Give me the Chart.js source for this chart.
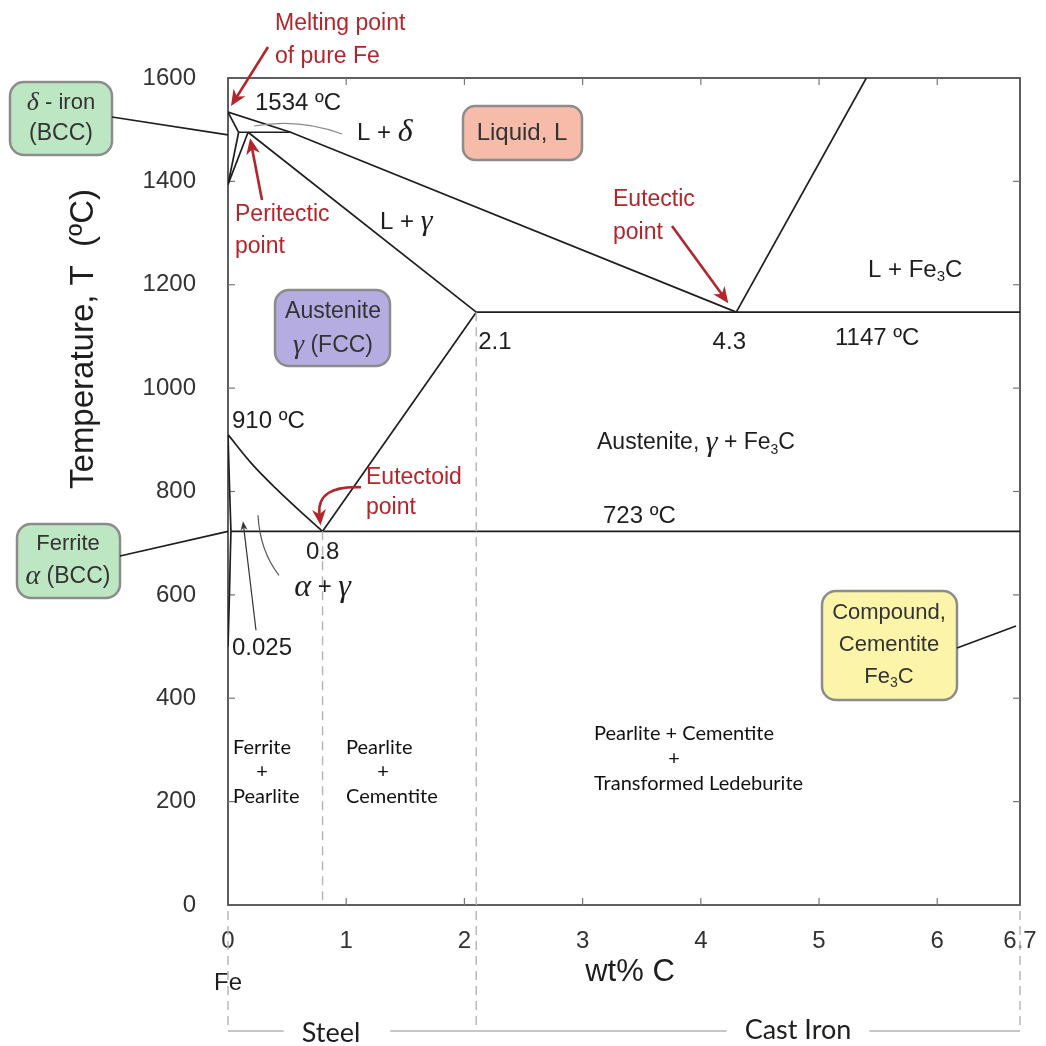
<!DOCTYPE html>
<html>
<head>
<meta charset="utf-8">
<title>Iron–carbon phase diagram</title>
<script src="https://cdn.jsdelivr.net/npm/chart.js@4.4.1/dist/chart.umd.min.js"></script>
<style>
  html, body { margin: 0; padding: 0; background: #ffffff; }
  #wrap { width: 1046px; height: 1046px; }
</style>
</head>
<body>
<div id="wrap"><canvas id="diagram" width="1046" height="1046"></canvas></div>
<script>
// ---- Fe–Fe3C phase diagram data: [wt% C, temperature in ºC] ----
const xTickValues = [0, 1, 2, 3, 4, 5, 6, 6.7];
const yTickValues = [0, 200, 400, 600, 800, 1000, 1200, 1400, 1600];

const liquidusDelta      = [[0, 1534], [0.53, 1495], [4.3, 1147]];
const liquidusCementite  = [[4.3, 1147], [5.4, 1600]];
const solidusDelta       = [[0, 1534], [0.09, 1495]];
const peritecticLine     = [[0.09, 1495], [0.53, 1495]];
const deltaGammaUpper    = [[0.09, 1495], [0, 1394]];
const deltaGammaLower    = [[0.17, 1495], [0, 1394]];
const solidusGamma       = [[0.17, 1495], [2.1, 1147]];
const eutecticLine       = [[2.1, 1147], [6.7, 1147]];
const acmLine            = [[0.8, 723], [2.1, 1147]];
const a3Line             = [[0, 910], [0.2, 854], [0.4, 807], [0.6, 764], [0.8, 723]];
const alphaGammaLine     = [[0, 910], [0.012, 815], [0.025, 723]];
const eutectoidLine      = [[0.025, 723], [6.7, 723]];
const ferriteSolvus      = [[0.025, 723], [0.02, 680], [0.012, 600], [0.005, 540], [0, 500]];
const eutectoidDivider   = [[0.8, 723], [0.8, 0]];
const steelIronDivider   = [[2.1, 1147], [2.1, 0]];

// ---- styling ----
const SANS = '"Liberation Sans", Arial, Helvetica, sans-serif';
const SERIF = '"Liberation Serif", "Times New Roman", serif';
const SOFT = 'Lato, "Open Sans", sans-serif';
const INK = '#1e1e1e';
const RED = '#b3242b';
const DASH_GREY = '#b4b4b4';
const sans = (s) => `${s}px ${SANS}`;
const greek = (s) => `italic ${s}px ${SERIF}`;

const toPoints = (arr) => arr.map(([x, y]) => ({ x, y }));
const phaseLine = (arr, extra = {}) => Object.assign({
  data: toPoints(arr), showLine: true, pointRadius: 0, borderColor: INK,
  borderWidth: 1.7, fill: false, tension: 0
}, extra);
const divider = (arr) => phaseLine(arr, { borderColor: DASH_GREY, borderWidth: 1.4, borderDash: [9, 6] });

// ---- helpers for the decoration plugin ----
function richText(ctx, x, y, parts, align) {
  let w = 0;
  parts.forEach(p => { ctx.font = p[1]; w += ctx.measureText(p[0]).width; });
  let cx = align === 'center' ? x - w / 2 : (align === 'right' ? x - w : x);
  ctx.textAlign = 'left';
  ctx.textBaseline = 'middle';
  parts.forEach(p => {
    ctx.font = p[1];
    ctx.fillText(p[0], cx, y + (p[2] || 0));
    cx += ctx.measureText(p[0]).width;
  });
  return w;
}
function fe3c(size) {
  return [['Fe', sans(size)], ['3', sans(Math.round(size * 0.62)), size * 0.3], ['C', sans(size)]];
}
function roundBox(ctx, x, y, w, h, r, fill) {
  ctx.save();
  ctx.beginPath();
  ctx.roundRect(x, y, w, h, r);
  ctx.fillStyle = fill;
  ctx.fill();
  ctx.lineWidth = 2.5;
  ctx.strokeStyle = '#8c8c8c';
  ctx.stroke();
  ctx.restore();
}
function line(ctx, x1, y1, x2, y2, color, width, dash) {
  ctx.save();
  ctx.beginPath();
  ctx.setLineDash(dash || []);
  ctx.moveTo(x1, y1);
  ctx.lineTo(x2, y2);
  ctx.strokeStyle = color;
  ctx.lineWidth = width;
  ctx.stroke();
  ctx.restore();
}
function arrowHead(ctx, x, y, angle, len, half, color) {
  ctx.save();
  ctx.translate(x, y);
  ctx.rotate(angle);
  ctx.beginPath();
  ctx.moveTo(0, 0);
  ctx.lineTo(-len, -half);
  ctx.lineTo(-len * 0.7, 0);
  ctx.lineTo(-len, half);
  ctx.closePath();
  ctx.fillStyle = color;
  ctx.fill();
  ctx.restore();
}
function straightArrow(ctx, x1, y1, x2, y2, color, width, len, half) {
  const a = Math.atan2(y2 - y1, x2 - x1);
  line(ctx, x1, y1, x2 - Math.cos(a) * len * 0.7, y2 - Math.sin(a) * len * 0.7, color, width);
  arrowHead(ctx, x2, y2, a, len, half, color);
}
function curvedArrow(ctx, x1, y1, cx, cy, x2, y2, color, width, len, half) {
  const a = Math.atan2(y2 - cy, x2 - cx);
  ctx.save();
  ctx.beginPath();
  ctx.moveTo(x1, y1);
  ctx.quadraticCurveTo(cx, cy, x2 - Math.cos(a) * len * 0.7, y2 - Math.sin(a) * len * 0.7);
  ctx.strokeStyle = color;
  ctx.lineWidth = width;
  ctx.stroke();
  ctx.restore();
  arrowHead(ctx, x2, y2, a, len, half, color);
}
function curve(ctx, x1, y1, cx, cy, x2, y2, color, width) {
  ctx.save();
  ctx.beginPath();
  ctx.moveTo(x1, y1);
  ctx.quadraticCurveTo(cx, cy, x2, y2);
  ctx.strokeStyle = color;
  ctx.lineWidth = width;
  ctx.stroke();
  ctx.restore();
}

// Frame and inward tick marks drawn under the phase boundaries
const framePlugin = {
  id: 'frame',
  beforeDatasetsDraw(chart) {
    const ctx = chart.ctx;
    const { left, right, top, bottom } = chart.chartArea;
    const X = v => chart.scales.x.getPixelForValue(v);
    const Y = v => chart.scales.y.getPixelForValue(v);
    ctx.save();
    ctx.strokeStyle = '#4e4e4e';
    ctx.lineWidth = 1.8;
    ctx.strokeRect(left, top, right - left, bottom - top);
    xTickValues.slice(1, -1).forEach(v => {
      line(ctx, X(v), bottom, X(v), bottom - 7, '#777', 1.2);
      line(ctx, X(v), top, X(v), top + 7, '#777', 1.2);
    });
    yTickValues.slice(1, -1).forEach(v => {
      line(ctx, left, Y(v), left + 7, Y(v), '#777', 1.2);
      line(ctx, right, Y(v), right - 7, Y(v), '#777', 1.2);
    });
    ctx.restore();
  }
};

// Phase labels, call-out boxes, arrows and the steel / cast iron bracket
const labelPlugin = {
  id: 'labels',
  afterDraw(chart) {
    const ctx = chart.ctx;
    const { left, right, top, bottom } = chart.chartArea;
    const X = v => chart.scales.x.getPixelForValue(v);
    const Y = v => chart.scales.y.getPixelForValue(v);
    const yEutectic = Y(1147), yEutectoid = Y(723);
    ctx.save();

    // axis titles
    ctx.fillStyle = INK;
    ctx.save();
    ctx.translate(84, 339);
    ctx.rotate(-Math.PI / 2);
    ctx.font = sans(33);
    ctx.textAlign = 'center';
    ctx.textBaseline = 'middle';
    ctx.fillText('Temperature, T  (ºC)', 0, 0);
    ctx.restore();
    ctx.font = sans(31);
    ctx.textAlign = 'center';
    ctx.textBaseline = 'middle';
    ctx.fillText('wt% C', 630, 972);
    ctx.font = sans(24);
    ctx.fillText('Fe', 228, 983);

    // steel / cast iron bracket
    const yBr = 1031;
    [0, 2.1, 6.7].forEach(v => line(ctx, X(v), bottom + 6, X(v), yBr, DASH_GREY, 1.4, [9, 6]));
    ctx.font = `27px ${SOFT}`;
    const steelW = ctx.measureText('Steel').width;
    const castW = ctx.measureText('Cast Iron').width;
    const steelX = 331, castX = 798;
    line(ctx, X(0), yBr, steelX - steelW / 2 - 18, yBr, DASH_GREY, 1.4);
    line(ctx, steelX + steelW / 2 + 30, yBr, castX - castW / 2 - 18, yBr, DASH_GREY, 1.4);
    line(ctx, castX + castW / 2 + 18, yBr, X(6.7), yBr, DASH_GREY, 1.4);
    ctx.fillStyle = INK;
    ctx.textAlign = 'center';
    ctx.textBaseline = 'middle';
    ctx.fillText('Steel', steelX, yBr + 2);
    ctx.fillText('Cast Iron', castX, yBr - 1);

    // call-out boxes
    roundBox(ctx, 10, 82, 102, 73, 14, '#bde6c3');
    line(ctx, 112, 117, left, Y(1490), INK, 1.7);
    ctx.fillStyle = '#333';
    richText(ctx, 61, 103, [['δ', greek(26)], [' - iron', sans(22)]], 'center');
    richText(ctx, 61, 134, [['(BCC)', sans(23)]], 'center');

    roundBox(ctx, 17, 524, 103, 74, 14, '#bde6c3');
    line(ctx, 120, 556, left, yEutectoid, INK, 1.7);
    ctx.fillStyle = '#333';
    richText(ctx, 68, 544, [['Ferrite', sans(22)]], 'center');
    richText(ctx, 68, 577, [['α', greek(28)], [' (BCC)', sans(23)]], 'center');

    roundBox(ctx, 275, 290, 115, 76, 14, '#b5ace2');
    ctx.fillStyle = '#333';
    richText(ctx, 333, 312, [['Austenite', sans(23)]], 'center');
    richText(ctx, 333, 346, [['γ', greek(28)], [' (FCC)', sans(23)]], 'center');

    roundBox(ctx, 463, 106, 119, 54, 12, '#f6bba9');
    ctx.fillStyle = '#333';
    richText(ctx, 522, 133, [['Liquid, L', sans(24)]], 'center');

    roundBox(ctx, 822, 591, 135, 109, 14, '#fbf4a9');
    line(ctx, 957, 648, right - 4, 626, INK, 1.7);
    ctx.fillStyle = '#333';
    richText(ctx, 889, 613, [['Compound,', sans(22)]], 'center');
    richText(ctx, 889, 645, [['Cementite', sans(22)]], 'center');
    richText(ctx, 889, 677, fe3c(22), 'center');

    // phase-field and temperature labels
    ctx.fillStyle = INK;
    richText(ctx, 255, 103, [['1534 ºC', sans(24)]], 'left');
    richText(ctx, 357, 133, [['L + ', sans(24)], ['δ', greek(32)]], 'left');
    curve(ctx, 254, 126, 300, 118, 342, 134, '#8a8a8a', 1.1);
    richText(ctx, 380, 222, [['L + ', sans(24)], ['γ', greek(30)]], 'left');
    richText(ctx, 868, 270, [['L + ', sans(24)]].concat(fe3c(24)), 'left');
    richText(ctx, X(2.1) + 2, yEutectic + 30, [['2.1', sans(24)]], 'left');
    richText(ctx, X(4.3) - 7, yEutectic + 30, [['4.3', sans(24)]], 'center');
    richText(ctx, 835, yEutectic + 26, [['1147 ºC', sans(24)]], 'left');
    richText(ctx, 232, Y(910) - 13, [['910 ºC', sans(24)]], 'left');
    richText(ctx, 597, 443, [['Austenite, ', sans(23)], ['γ', greek(30)], [' + ', sans(23)]].concat(fe3c(23)), 'left');
    richText(ctx, 603, yEutectoid - 15, [['723 ºC', sans(24)]], 'left');
    richText(ctx, X(0.8), yEutectoid + 21, [['0.8', sans(24)]], 'center');
    richText(ctx, X(0.8), yEutectoid + 56, [['α', greek(32)], [' + ', sans(24)], ['γ', greek(32)]], 'center');
    curve(ctx, 258, yEutectoid - 16, 260, yEutectoid + 20, 279, yEutectoid + 44, '#555', 1.2);
    richText(ctx, 232, yEutectoid + 117, [['0.025', sans(24)]], 'left');
    straightArrow(ctx, 256, yEutectoid + 99, 243, yEutectoid - 10, '#333', 1.2, 9, 3.5);

    // microstructure labels
    const sm = `20px ${SOFT}`;
    ctx.fillStyle = '#111';
    richText(ctx, 233, 748, [['Ferrite', sm]], 'left');
    richText(ctx, 262, 772, [['+', sm]], 'center');
    richText(ctx, 233, 797, [['Pearlite', sm]], 'left');
    richText(ctx, 346, 748, [['Pearlite', sm]], 'left');
    richText(ctx, 383, 772, [['+', sm]], 'center');
    richText(ctx, 346, 797, [['Cementite', sm]], 'left');
    richText(ctx, 594, 734, [['Pearlite + Cementite', sm]], 'left');
    richText(ctx, 674, 759, [['+', sm]], 'center');
    richText(ctx, 594, 784, [['Transformed Ledeburite', sm]], 'left');

    // red call-outs for the invariant points
    ctx.fillStyle = RED;
    richText(ctx, 275, 24, [['Melting point', sans(23)]], 'left');
    richText(ctx, 275, 57, [['of pure Fe', sans(23)]], 'left');
    straightArrow(ctx, 268, 47, X(0) + 3, Y(1534) - 6, RED, 2.6, 16, 7);

    ctx.fillStyle = RED;
    richText(ctx, 235, 215, [['Peritectic', sans(23)]], 'left');
    richText(ctx, 235, 247, [['point', sans(23)]], 'left');
    straightArrow(ctx, 262, 200, X(0.17) + 2, Y(1495) + 6, RED, 2.6, 16, 7);

    ctx.fillStyle = RED;
    richText(ctx, 613, 200, [['Eutectic', sans(23)]], 'left');
    richText(ctx, 613, 233, [['point', sans(23)]], 'left');
    straightArrow(ctx, 672, 226, X(4.3) - 8, yEutectic - 9, RED, 2.6, 16, 7);

    ctx.fillStyle = RED;
    richText(ctx, 366, yEutectoid - 54, [['Eutectoid', sans(23)]], 'left');
    richText(ctx, 366, yEutectoid - 24, [['point', sans(23)]], 'left');
    curvedArrow(ctx, 361, yEutectoid - 44, X(0.8) - 6, yEutectoid - 46, X(0.8) - 2, yEutectoid - 6, RED, 2.6, 16, 7);

    ctx.restore();
  }
};

new Chart(document.getElementById('diagram'), {
  type: 'scatter',
  data: {
    datasets: [
      divider(eutectoidDivider),
      divider(steelIronDivider),
      phaseLine(liquidusDelta),
      phaseLine(liquidusCementite),
      phaseLine(solidusDelta),
      phaseLine(peritecticLine),
      phaseLine(deltaGammaUpper),
      phaseLine(deltaGammaLower),
      phaseLine(solidusGamma),
      phaseLine(eutecticLine),
      phaseLine(acmLine),
      phaseLine(a3Line, { tension: 0.4, cubicInterpolationMode: 'monotone' }),
      phaseLine(alphaGammaLine, { tension: 0.4, cubicInterpolationMode: 'monotone' }),
      phaseLine(eutectoidLine),
      phaseLine(ferriteSolvus, { tension: 0.4, cubicInterpolationMode: 'monotone' })
    ]
  },
  options: {
    responsive: false,
    animation: false,
    devicePixelRatio: 1,
    layout: { padding: { top: 78, right: 26, left: 0, bottom: 0 } },
    plugins: { legend: { display: false }, tooltip: { enabled: false } },
    scales: {
      x: {
        type: 'linear',
        min: 0,
        max: 6.7,
        afterBuildTicks: (s) => { s.ticks = xTickValues.map(v => ({ value: v })); },
        afterFit: (s) => { s.height = 141; s.paddingLeft = 0; s.paddingRight = 0; },
        grid: { display: false, drawTicks: false },
        border: { display: false },
        ticks: {
          autoSkip: false, maxRotation: 0, padding: 22, color: '#333',
          font: { family: SANS, size: 24 },
          callback: (v) => String(v)
        }
      },
      y: {
        type: 'linear',
        min: 0,
        max: 1600,
        afterBuildTicks: (s) => { s.ticks = yTickValues.map(v => ({ value: v })); },
        afterFit: (s) => { s.width = 228; s.paddingTop = 0; s.paddingBottom = 0; },
        grid: { display: false, drawTicks: false },
        border: { display: false },
        ticks: {
          padding: 32, color: '#333',
          font: { family: SANS, size: 24 },
          callback: (v) => String(v)
        }
      }
    }
  },
  plugins: [framePlugin, labelPlugin]
});
</script>
</body>
</html>
